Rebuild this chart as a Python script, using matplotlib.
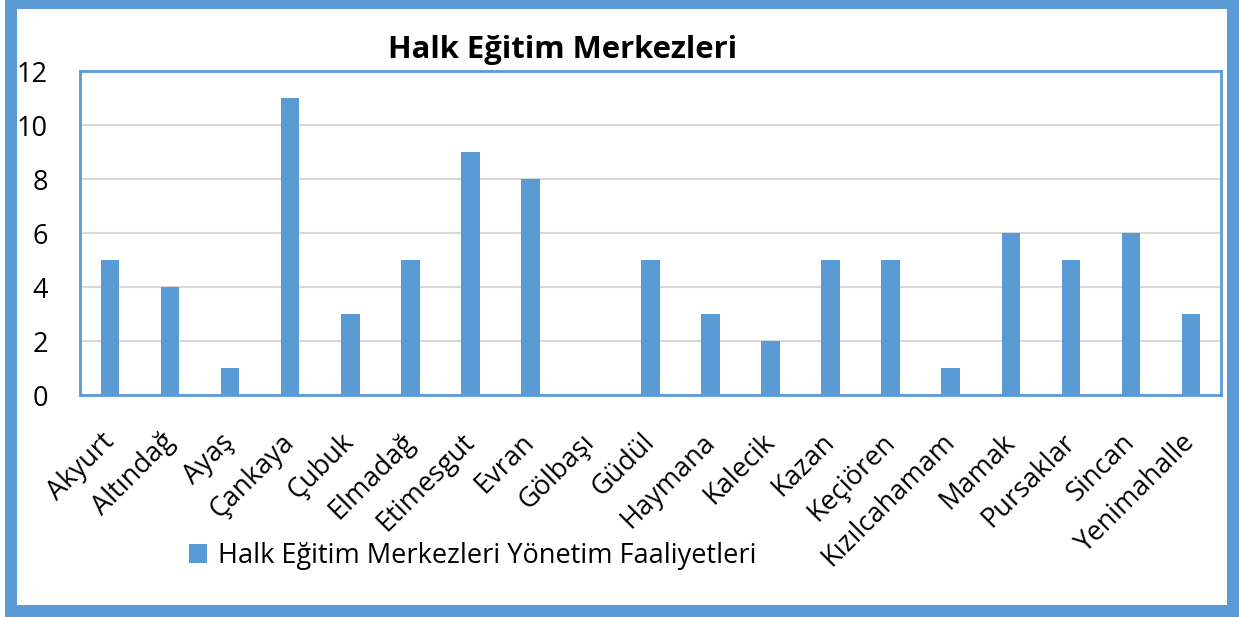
import matplotlib
matplotlib.use("Agg")
import matplotlib.pyplot as plt
from matplotlib.patches import Rectangle, Patch

categories = ["Akyurt", "Altındağ", "Ayaş", "Çankaya", "Çubuk", "Elmadağ", "Etimesgut",
              "Evran", "Gölbaşı", "Güdül", "Haymana", "Kalecik", "Kazan", "Keçiören",
              "Kızılcahamam", "Mamak", "Pursaklar", "Sincan", "Yenimahalle"]
values = [5, 4, 1, 11, 3, 5, 9, 8, 0, 5, 3, 2, 5, 5, 1, 6, 5, 6, 3]
yticks = [0, 2, 4, 6, 8, 10, 12]
title = "Halk Eğitim Merkezleri"
series_name = "Halk Eğitim Merkezleri Yönetim Faaliyetleri"

BLUE = "#5B9BD5"
W, H = 1239, 617
plt.rcParams['font.family'] = ['Open Sans', 'DejaVu Sans']

fig = plt.figure(figsize=(W / 100, H / 100), dpi=100)
fig.patch.set_facecolor("white")

def fx(px):
    return px / W

def fy(py):
    return 1 - py / H

# outer frame
for (x0, y0, x1, y1) in [(5, 0, 17, 617), (5, 0, 1239, 9), (1227, 0, 1239, 617), (5, 605, 1239, 617)]:
    fig.patches.append(Rectangle((fx(x0), fy(y1)), fx(x1) - fx(x0), fy(y0) - fy(y1),
                                 transform=fig.transFigure, facecolor=BLUE, edgecolor="none", zorder=0))

ax = fig.add_axes([fx(80), fy(395), fx(1221) - fx(80), fy(71) - fy(395)])
x = list(range(len(categories)))
ax.bar(x, values, width=0.31, color=BLUE, zorder=3)
ax.set_xlim(-0.5, len(categories) - 0.5)
ax.set_ylim(0, 12)
ax.set_yticks(yticks)
ax.set_yticklabels([str(v) for v in yticks], fontsize=19.5)
ax.set_xticks(x)
ax.set_xticklabels(categories, rotation=45, ha="right", va="center", rotation_mode="anchor", fontsize=19.5)
ax.tick_params(axis="both", length=0)
ax.tick_params(axis="y", pad=23)
ax.tick_params(axis="x", pad=31)
ax.yaxis.grid(True, color="#D9D9D9", linewidth=1.5, zorder=0)
ax.set_axisbelow(True)
for s in ax.spines.values():
    s.set_color(BLUE)
    s.set_linewidth(2)

fig.text(fx(563), fy(50), title, ha="center", va="center", fontsize=22.3, fontweight="bold")

handle = Patch(facecolor=BLUE, edgecolor="none")
fig.legend([handle], [series_name], loc="center left", bbox_to_anchor=(fx(165), fy(556)),
           bbox_transform=fig.transFigure, frameon=False, fontsize=19.5,
           handlelength=0.65, handleheight=0.65, handletextpad=0.4)

fig.savefig("out.png", dpi=100)
